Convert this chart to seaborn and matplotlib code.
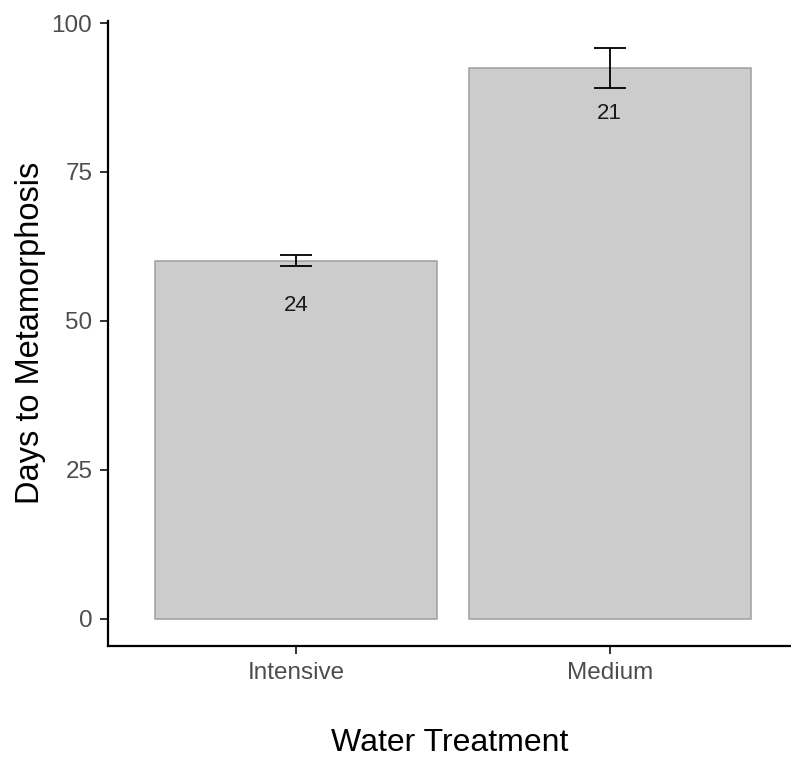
import matplotlib
matplotlib.use("Agg")
import matplotlib.pyplot as plt
import seaborn as sns
import pandas as pd
import numpy as np

treatments = ["Intensive", "Medium"]
mean_days = [60.1, 92.5]
se_days = [0.95, 3.35]
n_labels = ["24", "21"]
label_offset = 7.6

sns.set_theme(style="ticks")
plt.rcParams["font.family"] = ["Liberation Sans", "DejaVu Sans"]

df = pd.DataFrame({"Water Treatment": treatments, "Days": mean_days})

fig = plt.figure(figsize=(7.91, 7.58), dpi=100)
ax = fig.add_axes([108/791, 112/758, 1 - 108/791, (646 - 20.7)/758])

sns.barplot(data=df, x="Water Treatment", y="Days", color="#CCCCCC",
            saturation=1, width=0.9, edgecolor="#9E9E9E", linewidth=1.1,
            errorbar=None, ax=ax)

xpos = np.arange(len(treatments))
ax.errorbar(xpos, mean_days, yerr=se_days, fmt="none", ecolor="black",
            elinewidth=1.3, capsize=11.2, capthick=1.3)

for x, m, lab in zip(xpos, mean_days, n_labels):
    ax.text(x, m - label_offset, lab, ha="center", va="center",
            fontsize=16, color="#1A1A1A")

ax.set_xlim(-0.6, 1.578)
ax.set_ylim(-4.6, 100.4)
ax.set_yticks([0, 25, 50, 75, 100])

for s in ["top", "right"]:
    ax.spines[s].set_visible(False)
for s in ["left", "bottom"]:
    ax.spines[s].set_linewidth(1.6)
    ax.spines[s].set_color("black")

ax.tick_params(axis="both", length=5.8, width=1.4, color="#333333",
               labelsize=17.5, labelcolor="#4D4D4D", pad=5.5)

ax.set_xlabel("Water Treatment", fontsize=23, color="black", labelpad=32)
ax.set_ylabel("Days to Metamorphosis", fontsize=23.5, color="black", labelpad=4)

fig.savefig("out.png", dpi=100)
